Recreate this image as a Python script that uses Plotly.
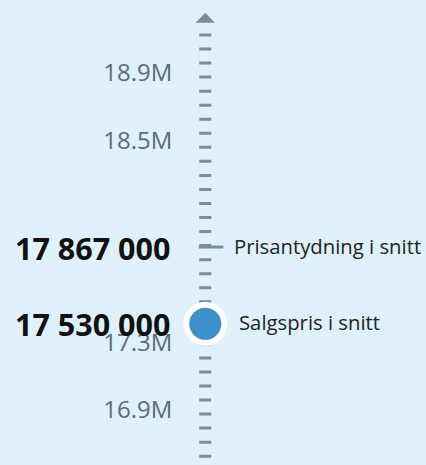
import plotly.graph_objects as go

# ---- data ----
series_names = ["Prisantydning i snitt", "Salgspris i snitt"]
series_values = [17867000, 17530000]
tick_values = [16.9e6, 17.3e6, 18.5e6, 18.9e6]
tick_labels = ["16.9M", "17.3M", "18.5M", "18.9M"]

W, H = 426, 465
BG = "#def1fc"
AXIS_COL = "#7b8c9c"
AX_X = 205.3  # pixel location of the axis

def fmt(v):
    return f"{v:,}".replace(",", " ")

fig = go.Figure()

shapes = []
# dashed vertical axis
shapes.append(dict(type="line", xref="x", yref="paper", x0=0, x1=0,
                   y0=1 - 33.5 / H, y1=0,
                   line=dict(color=AXIS_COL, width=12, dash="3px,11.04px"), layer="below"))
# arrow at top
shapes.append(dict(type="path", xref="x", yref="paper", ysizemode="pixel", yanchor=1,
                   path="M -9.7,-22.7 L 9.7,-22.7 L 0,-12.7 Z",
                   fillcolor=AXIS_COL, line=dict(width=0)))
# mark 1: price line
shapes.append(dict(type="line", xref="x", yref="y", x0=-6.5, x1=18,
                   y0=series_values[0], y1=series_values[0],
                   line=dict(color=AXIS_COL, width=3)))
# mark 2: circle
shapes.append(dict(type="circle", xref="x", yref="y", ysizemode="pixel",
                   yanchor=series_values[1], x0=-19, x1=19, y0=-39, y1=-1,
                   fillcolor="#3d8fc8", line=dict(color="white", width=6)))

annotations = []
label_shift = [0, -19]
legend_x = [26.5, 31.5]
for i, (name, v) in enumerate(zip(series_names, series_values)):
    annotations.append(dict(x=-33.5, y=v, xref="x", yref="y", xanchor="right", yanchor="middle",
                            text=fmt(v), showarrow=False, yshift=label_shift[i] - 1,
                            font=dict(family="Open Sans", size=30.5, color="#111111", weight=700)))
    annotations.append(dict(x=legend_x[i], y=v, xref="x", yref="y", xanchor="left", yanchor="middle",
                            text=name, showarrow=False, yshift=label_shift[i] + 1,
                            font=dict(family="Open Sans", size=20.3, color="#222222")))

fig.update_layout(
    width=W, height=H,
    margin=dict(l=0, r=0, t=0, b=0),
    paper_bgcolor=BG, plot_bgcolor=BG,
    showlegend=False,
    shapes=shapes,
    annotations=annotations,
    xaxis=dict(range=[-AX_X, W - AX_X], visible=False, fixedrange=True),
    yaxis=dict(range=[16.5736e6, 19.3332e6], anchor="free", position=AX_X / W,
               tickvals=tick_values, ticktext=tick_labels, showgrid=False, zeroline=False,
               showline=False, ticks="", ticklabelstandoff=33, fixedrange=True,
               tickfont=dict(family="Open Sans", size=24, color="#5b6b7b")),
)

fig.write_html("out.html", config={"displayModeBar": False},
               post_script="document.body.style.margin='0';")
